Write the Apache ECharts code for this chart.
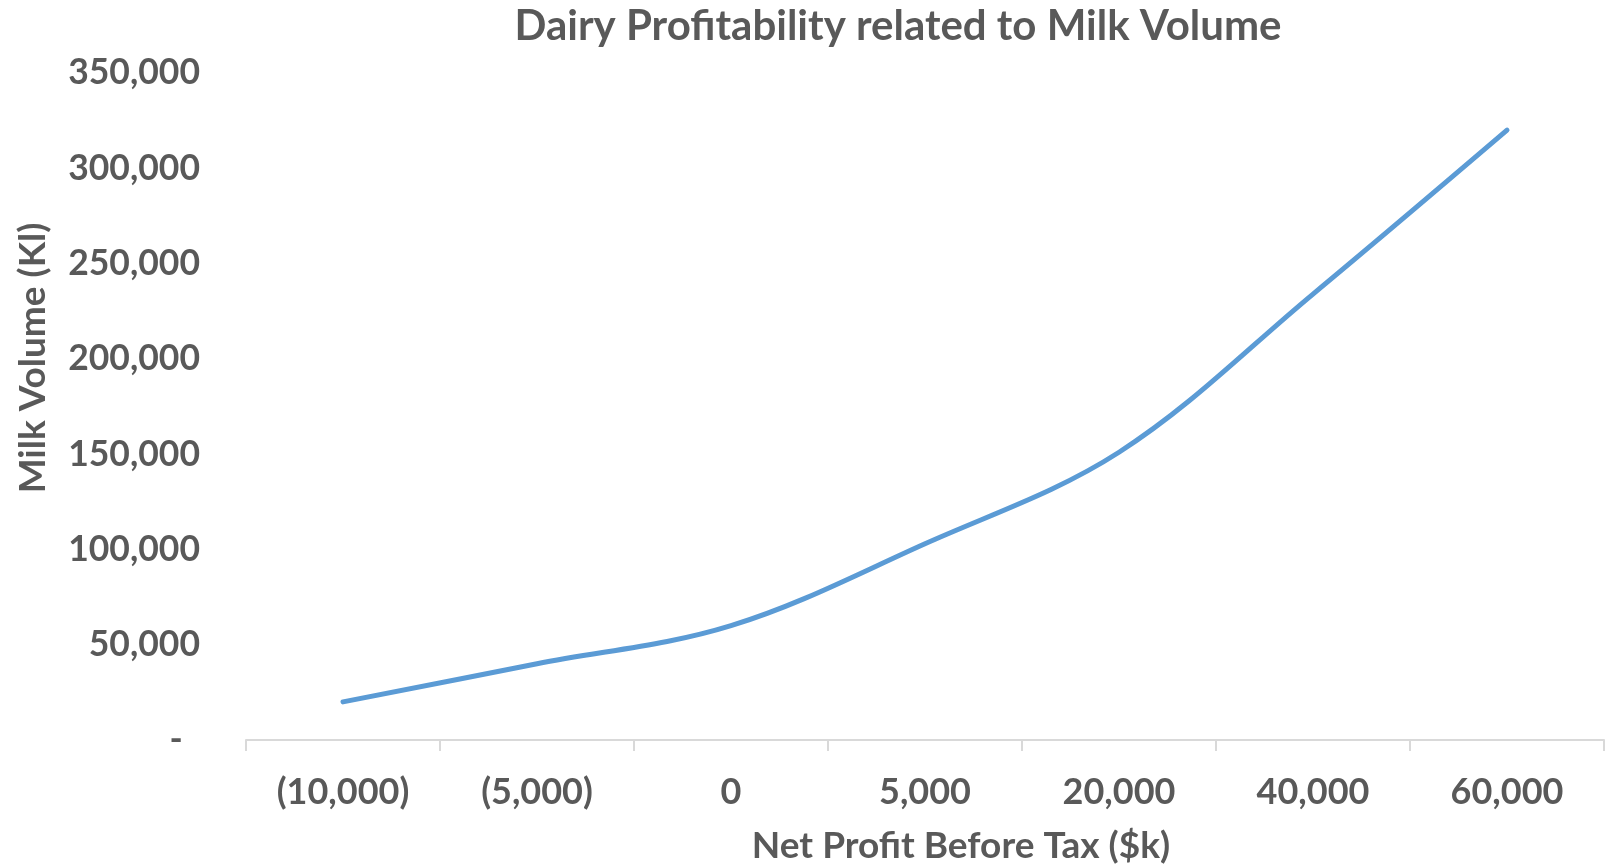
<!DOCTYPE html>
<html>
<head>
<meta charset="utf-8">
<title>Dairy Profitability related to Milk Volume</title>
<script src="https://cdn.jsdelivr.net/npm/echarts@6/dist/echarts.min.js"></script>
<style>
  html, body { margin: 0; padding: 0; background: #ffffff; }
  #chart { width: 1606px; height: 867px; }
</style>
</head>
<body>
<div id="chart"></div>
<script>
// Net profit before tax bands ($k) along the horizontal axis
const profitBands = ['(10,000)', '(5,000)', '0', '5,000', '20,000', '40,000', '60,000'];
// Milk volume (Kl) reached at each profit band
const milkVolume = [20000, 40000, 60000, 103000, 151000, 234000, 320000];
// Vertical axis range and step
const yMin = 0;
const yMax = 350000;
const yStep = 50000;

const textColor = '#595959';
const fontFamily = 'Lato, "Open Sans", sans-serif';

const chart = echarts.init(document.getElementById('chart'), null, { renderer: 'canvas' });

chart.setOption({
  animation: false,
  backgroundColor: '#ffffff',
  title: {
    text: 'Dairy Profitability related to Milk Volume',
    left: 893,
    top: 0,
    textAlign: 'center',
    textStyle: { color: textColor, fontFamily: fontFamily, fontWeight: 'bold', fontSize: 42 }
  },
  grid: { left: 246, right: 2, top: 73, bottom: 127, containLabel: false },
  xAxis: {
    type: 'category',
    data: profitBands,
    boundaryGap: true,
    axisLine: { show: true, lineStyle: { color: '#d9d9d9', width: 2 } },
    axisTick: { show: true, alignWithLabel: false, length: 11, lineStyle: { color: '#d9d9d9', width: 2 } },
    axisLabel: { color: textColor, fontFamily: fontFamily, fontWeight: 'bold', fontSize: 36, margin: 34 },
    splitLine: { show: false }
  },
  yAxis: {
    type: 'value',
    min: yMin,
    max: yMax,
    interval: yStep,
    axisLine: { show: false },
    axisTick: { show: false },
    splitLine: { show: false },
    axisLabel: {
      color: textColor, fontFamily: fontFamily, fontWeight: 'bold', fontSize: 35.5, margin: 46,
      // accounting-style zero: a dash padded in from the right edge
      formatter: v => v === 0 ? '-  ' : v.toLocaleString('en-US')
    }
  },
  graphic: [
    {
      type: 'text', x: 961, y: 846,
      style: { text: 'Net Profit Before Tax ($k)', fill: textColor, font: 'bold 37px ' + fontFamily, align: 'center', verticalAlign: 'middle' }
    },
    {
      type: 'text', x: 33, y: 358, rotation: Math.PI / 2,
      style: { text: 'Milk Volume (Kl)', fill: textColor, font: 'bold 37px ' + fontFamily, align: 'center', verticalAlign: 'middle' }
    }
  ],
  series: [{
    type: 'line',
    data: milkVolume,
    smooth: 0.35,
    showSymbol: false,
    lineStyle: { color: '#5b9bd5', width: 5, cap: 'round', join: 'round' },
    itemStyle: { color: '#5b9bd5' }
  }]
});
</script>
</body>
</html>
